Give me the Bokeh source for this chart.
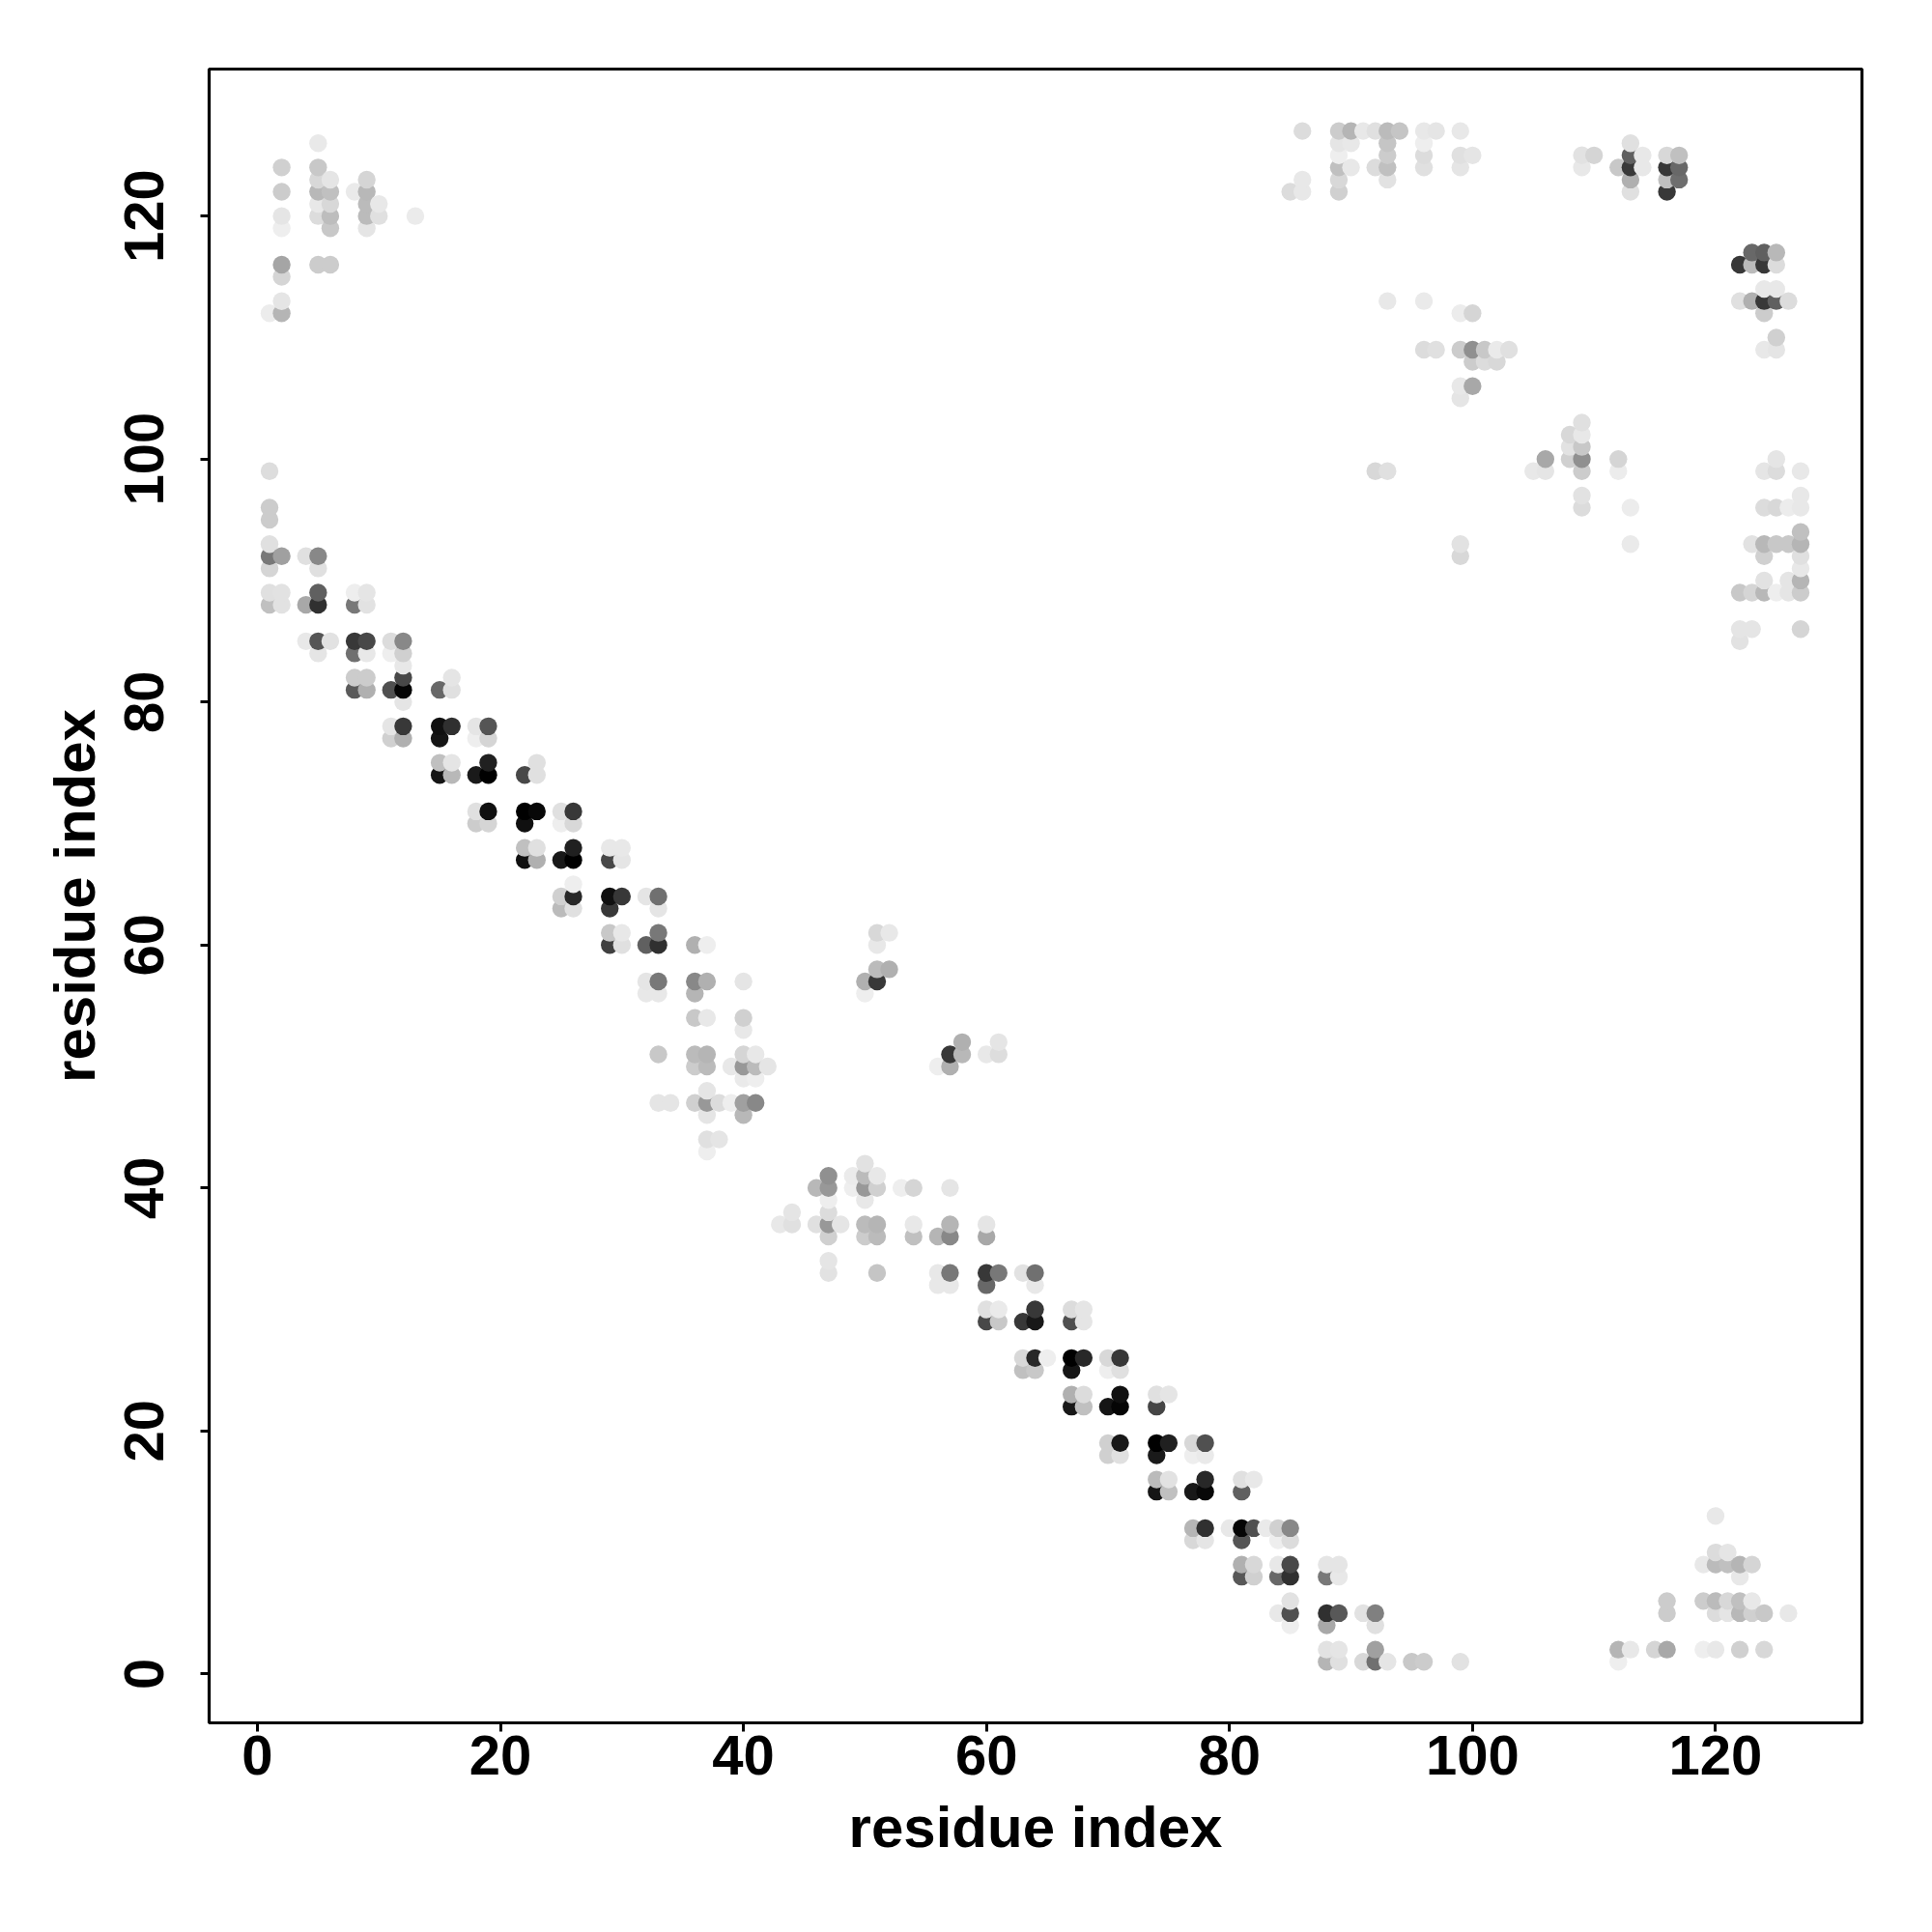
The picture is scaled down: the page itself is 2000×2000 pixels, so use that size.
from bokeh.plotting import figure
from bokeh.models import Range1d, FixedTicker
from bokeh.embed import file_html
from bokeh.resources import INLINE

# (residue x, residue y, grey level)
contacts_left = [
(1,99,0xdd),(1,96,0xcc),(1,95,0xcc),(1,93,0xe0),(1,92,0x78),(1,91,0xd5),(1,89,0xe0),(1,88,0xc0),(1,112,0xec),
(2,124,0xd0),(2,122,0xcc),(2,120,0xe5),(2,119,0xee),(2,116,0xa5),(2,115,0xd5),(2,113,0xe5),(2,112,0xb5),(2,92,0xa0),(2,89,0xe2),(2,88,0xe2),
(4,92,0xe0),(4,88,0xa8),(4,85,0xe8),
(5,126,0xe9),(5,124,0xc8),(5,123,0xd8),(5,122,0xb8),(5,121,0xe8),(5,120,0xdc),(5,116,0xcc),(5,92,0x88),(5,91,0xe0),(5,89,0x60),(5,88,0x30),(5,85,0x55),(5,84,0xe5),
(6,123,0xe5),(6,122,0xc0),(6,121,0xd8),(6,120,0xbd),(6,119,0xc8),(6,116,0xcc),(6,85,0xe2),
(8,122,0xea),(8,89,0xee),(8,88,0x78),(8,85,0x38),(8,84,0x70),(8,82,0xcc),(8,81,0x5a),
(9,123,0xd5),(9,122,0xb8),(9,121,0xbb),(9,120,0xbb),(9,119,0xe5),(9,89,0xe5),(9,88,0xe2),(9,85,0x48),(9,84,0xe8),(9,82,0xcc),(9,81,0xb0),
(10,121,0xe8),(10,120,0xe0),(13,120,0xeb),
(11,85,0xdc),(11,84,0xee),(11,81,0x50),(11,78,0xe5),(11,77,0xd0),
(12,85,0x88),(12,84,0xd0),(12,83,0xe8),(12,82,0x48),(12,81,0x05),(12,80,0xe5),(12,78,0x38),(12,77,0xb0),
(15,81,0x68),(15,78,0x10),(15,77,0x15),(15,75,0xc0),(15,74,0x15),
(16,82,0xe5),(16,81,0xe0),(16,78,0x30),(16,75,0xe5),(16,74,0xb8),
(18,78,0xe5),(18,77,0xee),(18,74,0x1a),(18,71,0xe0),(18,70,0xcc),
(19,78,0x55),(19,77,0xd5),(19,75,0x20),(19,74,0x00),(19,71,0x10),(19,70,0xd5),
(22,74,0x48),(22,71,0x00),(22,70,0x10),(22,68,0xc0),(22,67,0x10),
(23,75,0xe0),(23,74,0xe0),(23,71,0x08),(23,68,0xe0),(23,67,0xb0),
(25,71,0xe0),(25,70,0xee),(25,67,0x18),(25,64,0xd0),(25,63,0xbb),
(26,71,0x38),(26,70,0xd8),(26,68,0x20),(26,67,0x00),(26,65,0xee),(26,64,0x28),(26,63,0xe0),
(29,68,0xe8),(29,67,0x48),(29,64,0x10),(29,63,0x38),(29,61,0xc8),(29,60,0x40),
(30,68,0xe8),(30,67,0xe5),(30,64,0x38),(30,61,0xe8),(30,60,0xe0),
(32,64,0xe5),(32,60,0x60),(32,57,0xe5),(32,56,0xe8),
(33,64,0x70),(33,63,0xe5),(33,61,0x78),(33,60,0x30),(33,57,0x78),(33,56,0xe8),(33,51,0xc8),(33,47,0xe5),
(34,47,0xe5),
(36,60,0xb0),(36,57,0x88),(36,56,0xb5),(36,54,0xc8),(36,51,0xbb),(36,50,0xcc),(36,47,0xd0),
(37,60,0xee),(37,57,0xb0),(37,54,0xe8),(37,51,0xb5),(37,50,0xbb),(37,48,0xe5),(37,47,0x98),(37,46,0xe5),(37,44,0xe0),(37,43,0xee),
(38,47,0xdc),(38,44,0xe5),(39,50,0xe8),(39,47,0xee),
(40,57,0xe5),(40,54,0xd0),(40,53,0xe8),(40,51,0xd5),(40,50,0x98),(40,49,0xea),(40,47,0xa0),(40,46,0xb8),
(41,51,0xe8),(41,50,0xbb),(41,49,0xee),(41,47,0x88),(42,50,0xe5),
]

contacts_middle = [
(43,37,0xe8),(44,38,0xe5),(44,37,0xe0),(46,40,0xb8),(46,37,0xe0),
(47,41,0x90),(47,40,0x98),(47,39,0xee),(47,38,0xdc),(47,37,0x98),(47,36,0xd0),(47,34,0xe5),(47,33,0xe2),
(48,37,0xe5),(49,41,0xeb),(49,40,0xee),
(50,42,0xe2),(50,41,0xbb),(50,40,0x98),(50,39,0xe8),(50,37,0xbb),(50,36,0xcc),(50,57,0xb0),(50,56,0xee),
(51,41,0xe8),(51,40,0xd0),(51,37,0xb5),(51,36,0xbb),(51,33,0xc5),(51,61,0xd8),(51,60,0xe8),(51,58,0xbb),(51,57,0x38),
(52,61,0xe8),(52,58,0xb0),(53,40,0xee),(54,40,0xd5),(54,37,0xe8),(54,36,0xc0),
(56,50,0xee),(56,36,0xb5),(56,33,0xe8),(56,32,0xe8),
(57,51,0x38),(57,50,0xb0),(57,40,0xe5),(57,37,0xb5),(57,36,0x88),(57,33,0x78),(57,32,0xe8),
(58,52,0xb0),(58,51,0xb8),
(60,51,0xe8),(60,37,0xe5),(60,36,0xa8),(60,33,0x38),(60,32,0x68),(60,30,0xe0),(60,29,0x48),
(61,52,0xe5),(61,51,0xdd),(61,33,0x78),(61,30,0xea),(61,29,0xc8),
(63,33,0xe2),(63,29,0x38),(63,26,0xd8),(63,25,0xc0),
(64,33,0x70),(64,32,0xe8),(64,30,0x38),(64,29,0x18),(64,26,0x28),(64,25,0xc8),
(65,26,0xee),
(67,30,0xdc),(67,29,0x50),(67,26,0x00),(67,25,0x15),(67,23,0xb0),(67,22,0x18),
(68,30,0xe5),(68,29,0xe5),(68,26,0x28),(68,23,0xdc),(68,22,0xc0),
(70,26,0xd8),(70,25,0xee),(70,22,0x15),(70,19,0xd0),(70,18,0xd0),
(71,26,0x38),(71,25,0xe0),(71,23,0x10),(71,22,0x05),(71,19,0x18),(71,18,0xe0),
(74,23,0xe0),(74,22,0x45),(74,19,0x00),(74,18,0x1a),(74,16,0xbb),(74,15,0x15),
(75,23,0xe5),(75,19,0x20),(75,16,0xe2),(75,15,0xc0),
(77,19,0xd8),(77,18,0xee),(77,15,0x18),(77,12,0xb5),(77,11,0xd8),
(78,19,0x50),(78,18,0xea),(78,16,0x28),(78,15,0x08),(78,12,0x30),(78,11,0xe5),
(80,12,0xe8),(81,16,0xe0),(81,15,0x60),(81,12,0x05),(81,11,0x55),(81,9,0xb0),(81,8,0x58),
(82,16,0xe8),(82,12,0x50),(82,9,0xd8),(82,8,0xd0),
(83,12,0xea),(84,12,0xd0),(84,11,0xee),(84,9,0xe8),(84,8,0x68),(84,5,0xe8),
(85,122,0xdc),(85,12,0x88),(85,11,0xdc),(85,9,0x48),(85,8,0x30),(85,6,0xe2),(85,5,0x50),(85,4,0xee),
]

contacts_right = [
(86,127,0xdc),(86,123,0xe8),(86,122,0xe8),
(88,9,0xe5),(88,8,0x78),(88,5,0x30),(88,4,0xa8),(88,2,0xe2),(88,1,0xb5),
(89,127,0xcc),(89,126,0xe5),(89,125,0xee),(89,124,0xc0),(89,123,0xd8),(89,122,0xd0),(89,9,0xe5),(89,8,0xe8),(89,5,0x58),(89,2,0xe5),(89,1,0xe0),
(90,127,0xb5),(90,126,0xe8),(90,124,0xe8),
(91,127,0xe8),(91,5,0xe2),(91,1,0xd8),
(92,127,0xe0),(92,124,0xdc),(92,99,0xd8),(92,5,0x80),(92,4,0xe0),(92,2,0xa0),(92,1,0x70),
(93,127,0xbb),(93,126,0xc5),(93,125,0xcc),(93,124,0xc0),(93,123,0xe2),(93,113,0xe8),(93,99,0xe0),(93,1,0xe5),
(94,127,0xc5),(95,1,0xc8),
(96,127,0xe8),(96,126,0xee),(96,125,0xdc),(96,124,0xe0),(96,113,0xea),(96,109,0xdc),(96,1,0xcc),
(97,127,0xe5),(97,109,0xe0),
(99,127,0xe8),(99,125,0xe0),(99,124,0xe5),(99,112,0xec),(99,109,0xcc),(99,106,0xe8),(99,105,0xe5),(99,93,0xe2),(99,92,0xd8),(99,1,0xe2),
(100,125,0xe5),(100,112,0xd5),(100,109,0x90),(100,108,0xcc),(100,106,0xa8),
(101,109,0xc8),(101,108,0xdc),(102,109,0xea),(102,108,0xd8),(103,109,0xe0),
(105,99,0xe8),(106,100,0xa8),(106,99,0xe5),
(108,102,0xd8),(108,101,0xe2),(108,100,0xd0),
(109,125,0xe2),(109,124,0xe8),(109,103,0xe0),(109,102,0xe8),(109,101,0xc8),(109,100,0x90),(109,99,0xcc),(109,97,0xe2),(109,96,0xdc),
(110,125,0xd5),
(112,124,0xc8),(112,100,0xd5),(112,99,0xec),(112,2,0xb5),(112,1,0xee),
(113,126,0xe0),(113,125,0x60),(113,124,0x38),(113,123,0xb0),(113,122,0xe0),(113,96,0xec),(113,93,0xea),(113,2,0xe8),
(114,125,0xe8),(114,124,0xe8),(115,2,0xd5),
(116,125,0xd8),(116,124,0x38),(116,123,0xc0),(116,122,0x38),(116,6,0xcc),(116,5,0xcc),(116,2,0xa8),
(117,125,0xc0),(117,124,0x68),(117,123,0x6e),
(119,9,0xe8),(119,6,0xcc),(119,2,0xee),
(120,13,0xe8),(120,10,0xdc),(120,9,0xbb),(120,6,0xbb),(120,5,0xdc),(120,2,0xe8),
(121,10,0xe5),(121,9,0xc0),(121,6,0xd8),(121,5,0xe5),
(122,116,0x38),(122,113,0xe0),(122,89,0xc8),(122,86,0xe5),(122,85,0xe2),(122,9,0xb5),(122,8,0xe8),(122,6,0xc0),(122,5,0xb8),(122,2,0xd0),
(123,117,0x68),(123,116,0xbb),(123,113,0xb0),(123,93,0xe2),(123,89,0xd5),(123,86,0xe5),(123,9,0xd5),(123,6,0xe8),(123,5,0xd0),
(124,117,0x60),(124,116,0x38),(124,114,0xe8),(124,113,0x38),(124,112,0xcc),(124,109,0xe8),(124,99,0xe5),(124,96,0xdc),(124,93,0xb8),(124,92,0xd0),(124,90,0xe2),(124,89,0xb8),(124,5,0xc8),(124,2,0xd8),
(125,117,0xb8),(125,116,0xdc),(125,114,0xe8),(125,113,0x60),(125,110,0xd0),(125,109,0xe5),(125,100,0xe5),(125,99,0xdc),(125,96,0xd8),(125,93,0xc8),(125,89,0xee),
(126,113,0xdc),(126,96,0xec),(126,93,0xc8),(126,90,0xe5),(126,89,0xe5),(126,5,0xe8),
(127,99,0xe8),(127,97,0xe8),(127,96,0xe8),(127,94,0xc0),(127,93,0xb5),(127,92,0xe0),(127,91,0xe8),(127,90,0xb5),(127,89,0xcc),(127,86,0xd5),
]

tick_values = [0, 20, 40, 60, 80, 100, 120]
axis_title = "residue index"

contacts = sorted(contacts_left + contacts_middle + contacts_right, key=lambda c: (c[0], c[1]))
xs = [c[0] for c in contacts]
ys = [c[1] for c in contacts]
colors = ["#%02x%02x%02x" % (c[2], c[2], c[2]) for c in contacts]

p = figure(width=1984, height=1984, output_backend="svg", toolbar_location=None,
           x_range=Range1d(-3.97, 132.05), y_range=Range1d(-4.03, 132.1),
           min_border_left=216, min_border_top=71, min_border_right=57, min_border_bottom=201,
           background_fill_color="white", border_fill_color="white")
p.grid.visible = False
p.outline_line_color = "black"
p.outline_line_width = 3.2

p.scatter(xs, ys, size=18.4, marker="circle", fill_color=colors, line_color=None)

for ax in (p.xaxis[0], p.yaxis[0]):
    ax.ticker = FixedTicker(ticks=tick_values)
    ax.axis_label = axis_title
    ax.axis_label_text_font = "Liberation Sans"
    ax.axis_label_text_font_style = "bold"
    ax.axis_label_text_font_size = "60px"
    ax.axis_label_text_color = "black"
    ax.major_label_text_font = "Liberation Sans"
    ax.major_label_text_font_style = "bold"
    ax.major_label_text_font_size = "58px"
    ax.major_label_text_color = "black"
    ax.major_tick_in = 0
    ax.major_tick_out = 9
    ax.major_tick_line_width = 3
    ax.major_tick_line_color = "black"
    ax.minor_tick_line_color = None
    ax.axis_line_color = None
p.xaxis[0].major_label_standoff = 4
p.xaxis[0].axis_label_standoff = 18
p.yaxis[0].major_label_standoff = 38
p.yaxis[0].axis_label_standoff = 16
p.yaxis[0].major_label_orientation = "vertical"

open("out.html", "w").write(file_html(p, INLINE))
